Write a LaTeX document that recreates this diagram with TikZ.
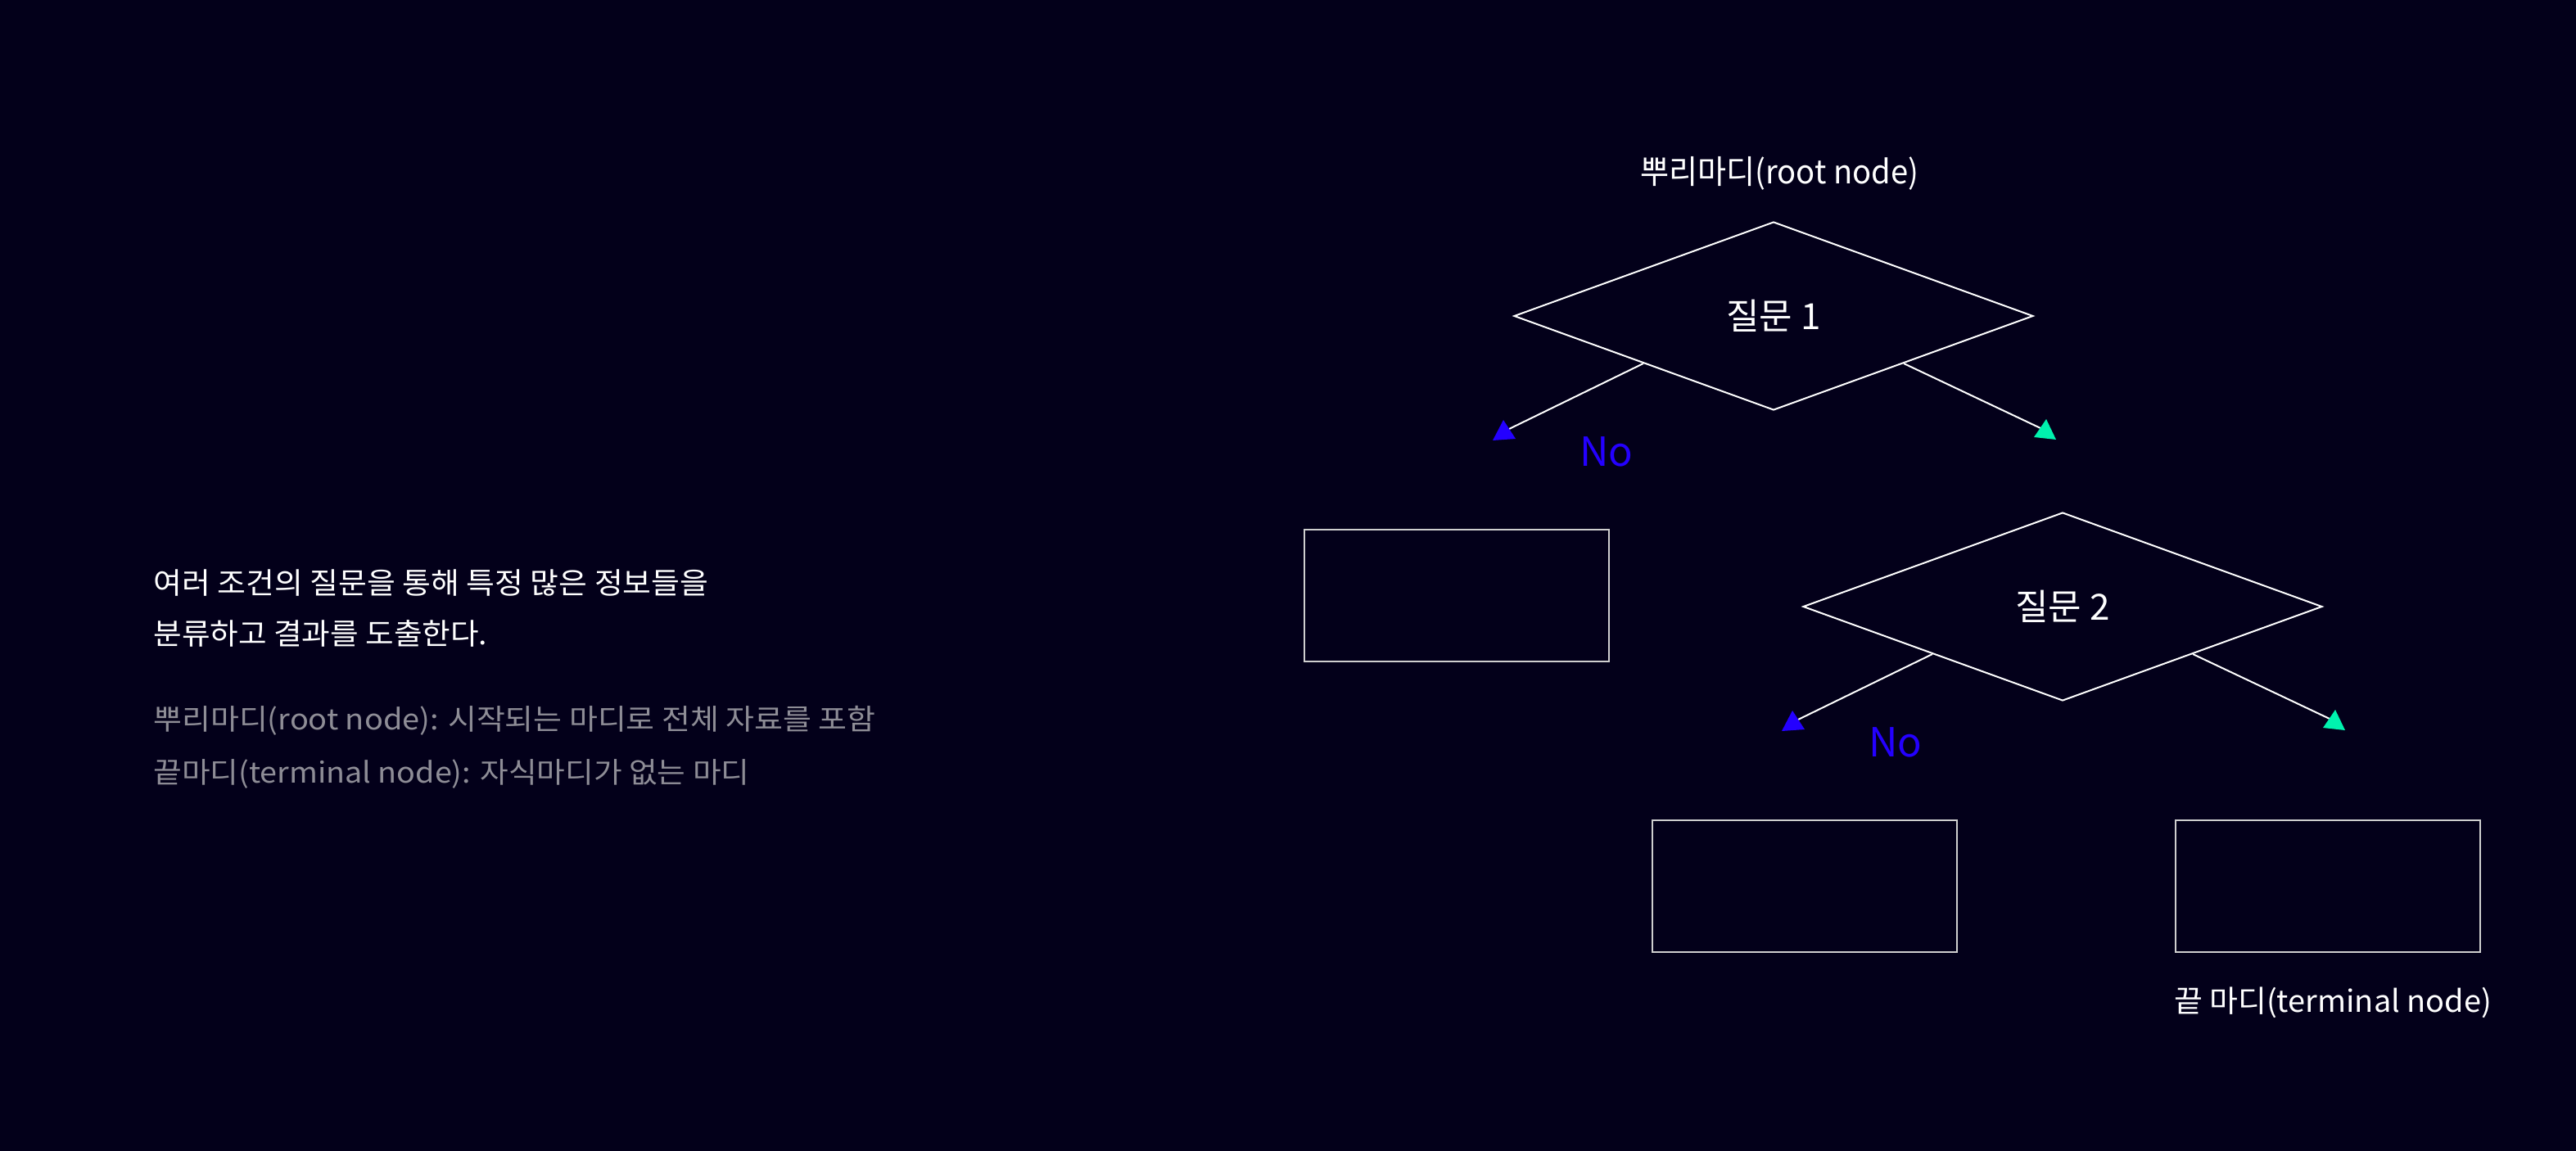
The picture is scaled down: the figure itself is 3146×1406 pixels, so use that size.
\documentclass[tikz,border=0pt]{standalone}
\usepackage{fontspec}
\setmainfont{Noto Sans CJK KR}
\usetikzlibrary{shapes.geometric,calc}
\definecolor{bg}{HTML}{03001A}
\definecolor{nocol}{HTML}{2400FF}
\definecolor{yescol}{HTML}{00F2AE}
\definecolor{boxgray}{HTML}{CFCFCF}
\definecolor{txtgray}{HTML}{8E8D96}
\newcommand\fitw[2]{\resizebox{#1}{\height}{#2}}
\begin{document}
\begin{tikzpicture}[x=0.5pt,y=-0.5pt,
  question/.style={shape=diamond, draw=white, line width=1pt, minimum width=317pt,
    minimum height=115pt, inner sep=0pt, text=white, font=\fontsize{22pt}{26pt}\selectfont},
  leaf/.style={draw=boxgray, line width=1pt, minimum width=186pt, minimum height=80.5pt, inner sep=0pt},
  lbl/.style={inner sep=0pt, text=white},
  leftmain/.style={lbl, anchor=base west, font=\fontsize{18pt}{22pt}\selectfont},
  leftgray/.style={lbl, anchor=base west, text=txtgray, font=\fontsize{17.5pt}{21pt}\selectfont},
  nolbl/.style={inner sep=0pt, anchor=base west, text=nocol, font=\fontsize{24.5pt}{29pt}\selectfont},
  conn/.style={draw=white, line width=1pt},
]
\fill[bg] (0,0) rectangle (3146,1406);
\useasboundingbox (0,0) rectangle (3146,1406);

% left text
\node[leftmain] (t1) at (187,725) {\fitw{339pt}{여러 조건의 질문을 통해 특정 많은 정보들을}};
\node[leftmain] (t2) at (187,787) {\fitw{204pt}{분류하고 결과를 도출한다.}};
\node[leftgray] (g1) at (187,891) {\fitw{441pt}{뿌리마디(root node): 시작되는 마디로 전체 자료를 포함}};
\node[leftgray] (g2) at (187,956) {\fitw{364pt}{끝마디(terminal node): 자식마디가 없는 마디}};

% tree
\node[lbl, anchor=base, font=\fontsize{20pt}{24pt}\selectfont] (root) at (2173,225) {\fitw{170pt}{뿌리마디(root node)}};
\node[question] (d1) at (2166,386) {질문 1};
\node[question] (d2) at (2519,741) {질문 2};
\node[leaf] (b1) at (1779,727.5) {};
\node[leaf] (b2) at (2204,1082.5) {};
\node[leaf] (b3) at (2843,1082.5) {};
\node[lbl, anchor=base, font=\fontsize{18.5pt}{22pt}\selectfont] (term) at (2849,1236) {\fitw{194pt}{끝 마디(terminal node)}};

\node[nolbl] (no1) at (1929,569) {No};
\node[nolbl] (no2) at (2282,924) {No};

\coordinate (a1) at (1843,524);
\coordinate (a2) at (2492,523);
\coordinate (a3) at (2196,879);
\coordinate (a4) at (2845,878);

\draw[conn] ($(d1.west)!0.5!(d1.south)$) -- (a1);
\draw[conn] ($(d1.east)!0.5!(d1.south)$) -- (a2);
\draw[conn] ($(d2.west)!0.5!(d2.south)$) -- (a3);
\draw[conn] ($(d2.east)!0.5!(d2.south)$) -- (a4);

\fill[nocol, shift={(a1)}] (-7,-11) -- (-20,14) -- (8,12) -- cycle;
\fill[yescol, shift={(a2)}] (7,-11) -- (-8,11) -- (19,14) -- cycle;
\fill[nocol, shift={(a3)}] (-7,-11) -- (-20,14) -- (8,12) -- cycle;
\fill[yescol, shift={(a4)}] (7,-11) -- (-8,11) -- (19,14) -- cycle;
\end{tikzpicture}
\end{document}
